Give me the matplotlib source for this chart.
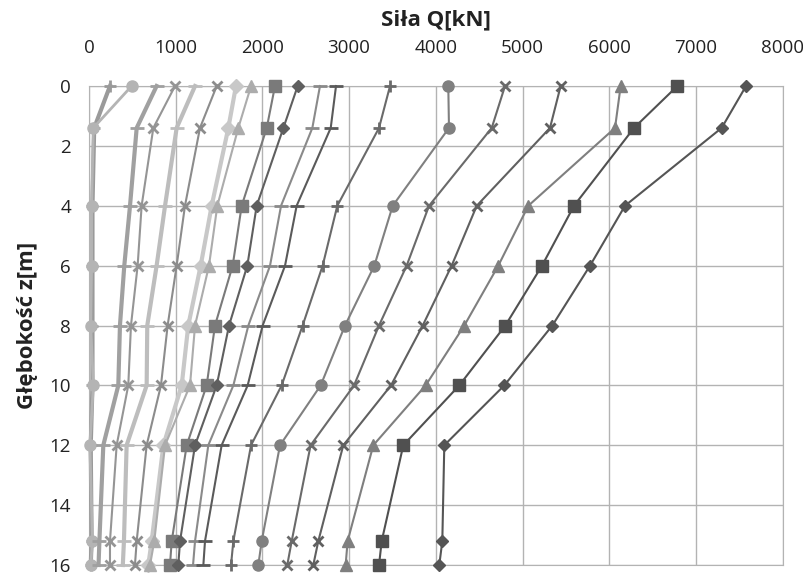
import matplotlib
matplotlib.use("Agg")
import matplotlib.pyplot as plt

plt.rcParams["font.family"] = ["Open Sans", "DejaVu Sans"]

# depths [m] at which the force was read
depth = [0, 1.4, 4, 6, 8, 10, 12, 15.2, 16]

# force Q [kN] per curve, right (dark) to left (light)
q_a = [7578, 7297, 6182, 5779, 5344, 4790, 4098, 4075, 4040]
q_b = [6786, 6286, 5594, 5225, 4802, 4271, 3625, 3376, 3345]
q_c = [6132, 6067, 5067, 4721, 4329, 3883, 3279, 2983, 2960]
q_d = [5440, 5317, 4472, 4183, 3849, 3483, 2933, 2645, 2587]
q_e = [4798, 4645, 3922, 3664, 3345, 3057, 2556, 2338, 2287]
q_f = [4144, 4152, 3503, 3291, 2953, 2672, 2203, 1992, 1953]
q_g = [3472, 3345, 2864, 2695, 2464, 2222, 1869, 1665, 1638]
q_h = [2849, 2788, 2395, 2261, 2003, 1830, 1530, 1338, 1319]
q_i = [2664, 2576, 2215, 2088, 1838, 1665, 1376, 1223, 1200]
q_j = [2407, 2242, 1934, 1826, 1615, 1473, 1223, 1050, 1030]
q_k = [2145, 2050, 1761, 1657, 1453, 1357, 1127, 954, 934]
q_l = [1869, 1722, 1480, 1384, 1223, 1165, 877, 753, 704]
q_m = [1695, 1607, 1415, 1288, 1145, 1069, 858, 723, 684]
q_n = [1473, 1280, 1107, 1011, 907, 830, 665, 550, 530]
q_o = [1223, 1011, 877, 780, 672, 665, 434, 403, 390]
q_p = [992, 742, 607, 561, 484, 453, 319, 242, 242]
q_q = [780, 550, 473, 407, 357, 338, 165, 120, 110]
q_r = [492, 50, 30, 30, 20, 50, 10, 40, 20]
q_s = [242, 60, 40, 40, 40, 40, 20, 30, 20]

# (values, marker, colour, line width, marker size)
curves = [
    (q_s, "+", "#9a9a9a", 3.0, 9),
    (q_r, "o", "#b4b4b4", 2.0, 8),
    (q_q, "_", "#a0a0a0", 3.0, 10),
    (q_p, "x", "#959595", 1.5, 7),
    (q_o, "_", "#bdbdbd", 3.0, 10),
    (q_n, "x", "#8c8c8c", 1.5, 7),
    (q_m, "D", "#c8c8c8", 3.0, 7),
    (q_l, "^", "#acacac", 1.5, 8),
    (q_k, "s", "#7a7a7a", 1.5, 8),
    (q_j, "D", "#5f5f5f", 1.5, 6),
    (q_i, "_", "#8a8a8a", 1.5, 10),
    (q_h, "_", "#5a5a5a", 1.5, 10),
    (q_g, "+", "#6a6a6a", 1.5, 9),
    (q_f, "o", "#808080", 1.5, 8),
    (q_e, "x", "#6a6a6a", 1.5, 7),
    (q_d, "x", "#606060", 1.5, 7),
    (q_c, "^", "#7f7f7f", 1.5, 8),
    (q_b, "s", "#505050", 1.5, 8),
    (q_a, "D", "#555555", 1.5, 6),
]

fig = plt.figure(figsize=(8.04, 5.75), dpi=100)
ax = fig.add_axes([0.1107, 0.0174, 0.8627, 0.833])

for vals, mk, col, lw, ms in curves:
    ax.plot(vals, depth, color=col, lw=lw, marker=mk, ms=ms,
            mew=2 if mk in "+x_" else 1, mec=col, mfc=col, zorder=3, clip_on=False)

ax.set_xlim(0, 8000)
ax.set_ylim(16, 0)
ax.set_xticks(range(0, 8001, 1000))
ax.set_yticks(range(0, 17, 2))
ax.xaxis.tick_top()
ax.xaxis.set_label_position("top")
ax.tick_params(axis="x", length=0, pad=21, labelsize=13.5, colors="#222222")
ax.tick_params(axis="y", length=0, pad=13, labelsize=13.5, colors="#222222")
ax.grid(True, color="#b3b3b3", lw=1, zorder=0)
ax.set_axisbelow(True)
for s in ax.spines.values():
    s.set_color("#b3b3b3")

ax.set_xlabel("Siła Q[kN]", fontsize=16, fontweight="bold", labelpad=10, color="#222222")
ax.set_ylabel("Głębokość z[m]", fontsize=16, fontweight="bold", labelpad=8, color="#222222")

fig.savefig("out.png", dpi=100)
